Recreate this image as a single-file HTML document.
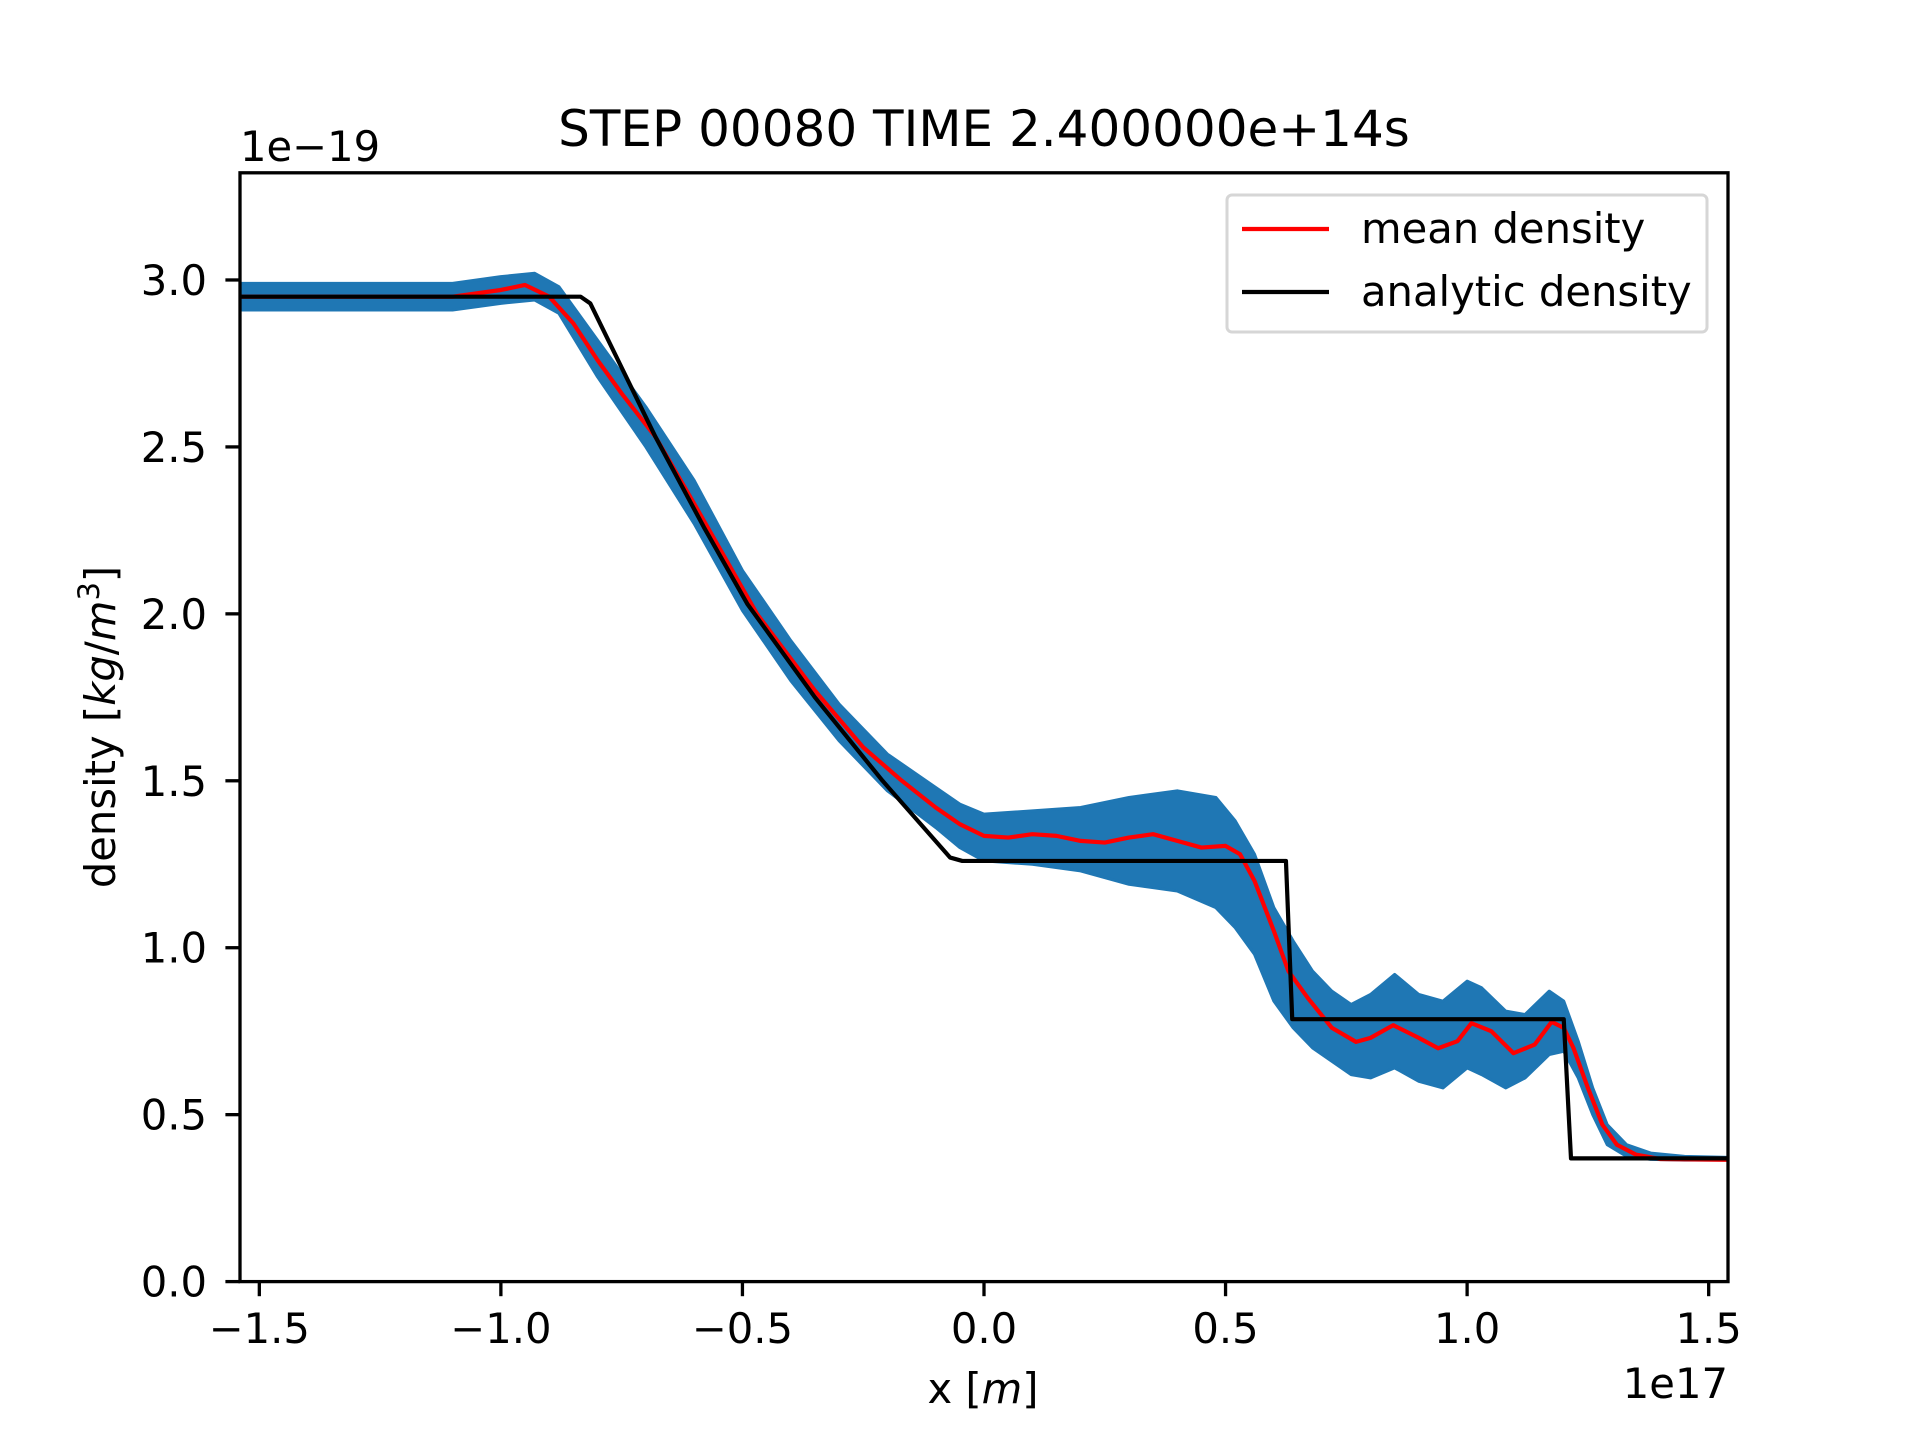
<!DOCTYPE html>
<html><head><meta charset="utf-8"><style>
html,body{margin:0;padding:0;background:#fff;}
svg text{font-family:"DejaVu Sans","Liberation Sans",sans-serif;fill:#000;}
</style></head><body>
<svg id="chart" width="1920" height="1440" viewBox="0 0 1920 1440" xmlns="http://www.w3.org/2000/svg">
<rect width="1920" height="1440" fill="#fff"/>
<text x="984" y="146" font-size="50" text-anchor="middle">STEP 00080 TIME 2.400000e+14s</text>
<text x="240" y="161" font-size="41.7">1e−19</text>
<text x="1728" y="1398" font-size="41.7" text-anchor="end">1e17</text>
<text x="983" y="1403" font-size="41.7" text-anchor="middle">x [<tspan font-style="italic">m</tspan>]</text>
<text transform="translate(115,727) rotate(-90)" font-size="41.7" text-anchor="middle">density [<tspan font-style="italic">kg</tspan>/<tspan font-style="italic">m</tspan><tspan font-size="29" dy="-16">3</tspan><tspan dy="16">]</tspan></text>
<defs><clipPath id="clip"><rect x="240" y="172.8" width="1488" height="1108.8"/></clipPath></defs>
<g id="plot" clip-path="url(#clip)"></g>
<g id="axes"></g>
<g>
<rect x="1227" y="195" width="480" height="137" rx="5" fill="#fff" fill-opacity="0.8" stroke="#d6d6d6" stroke-width="3"/>
<line x1="1242" y1="229" x2="1329" y2="229" stroke="#ff0000" stroke-width="4.2"/>
<text x="1361" y="243" font-size="41.7">mean density</text>
<line x1="1242" y1="292" x2="1329" y2="292" stroke="#000" stroke-width="4.2"/>
<text x="1361" y="306" font-size="41.7">analytic density</text>
</g>
</svg>
<script>
const xTicks = [-1.5,-1.0,-0.5,0.0,0.5,1.0,1.5];
const xTickLabels = ["−1.5","−1.0","−0.5","0.0","0.5","1.0","1.5"];
const yTicks = [0,0.5,1.0,1.5,2.0,2.5,3.0];
const yTickLabels = ["0.0","0.5","1.0","1.5","2.0","2.5","3.0"];
const analyticX = [-1.54,-0.835,-0.815,-0.68,-0.58,-0.49,-0.35,-0.21,-0.07,-0.045,0.625,0.638,1.2,1.215,1.54];
const analyticY = [2.95,2.95,2.93,2.53,2.26,2.03,1.75,1.5,1.27,1.26,1.26,0.786,0.786,0.369,0.369];
const meanX = [-1.54,-1.1,-1.0,-0.95,-0.9,-0.85,-0.8,-0.75,-0.68,-0.6,-0.47,-0.35,-0.25,-0.17,-0.1,-0.05,0,0.05,0.1,0.15,0.2,0.25,0.3,0.35,0.4,0.45,0.5,0.53,0.56,0.6,0.63,0.67,0.72,0.77,0.8,0.847,0.9,0.94,0.98,1.009,1.05,1.096,1.14,1.175,1.2,1.22,1.25,1.28,1.31,1.35,1.4,1.54];
const meanY = [2.95,2.95,2.97,2.985,2.95,2.87,2.76,2.66,2.53,2.33,2.0,1.77,1.6,1.5,1.42,1.37,1.335,1.33,1.34,1.335,1.32,1.315,1.33,1.34,1.32,1.30,1.305,1.28,1.2,1.05,0.93,0.85,0.76,0.718,0.73,0.768,0.73,0.699,0.72,0.774,0.75,0.684,0.71,0.778,0.76,0.70,0.58,0.47,0.41,0.38,0.367,0.365];
const bandX = [-1.54,-1.1,-1.0,-0.93,-0.88,-0.8,-0.7,-0.6,-0.5,-0.4,-0.3,-0.2,-0.1,-0.05,0,0.1,0.2,0.3,0.4,0.48,0.52,0.56,0.6,0.64,0.68,0.72,0.76,0.8,0.85,0.9,0.95,1.0,1.03,1.08,1.12,1.17,1.2,1.23,1.26,1.29,1.33,1.38,1.45,1.54];
const bandUpper = [2.99,2.99,3.01,3.02,2.98,2.82,2.62,2.40,2.13,1.92,1.73,1.58,1.48,1.43,1.40,1.41,1.42,1.45,1.47,1.45,1.38,1.28,1.12,1.02,0.93,0.87,0.83,0.86,0.92,0.86,0.84,0.90,0.88,0.81,0.80,0.87,0.84,0.72,0.58,0.47,0.41,0.385,0.375,0.372];
const bandLower = [2.91,2.91,2.93,2.94,2.90,2.71,2.50,2.27,2.01,1.80,1.62,1.47,1.36,1.30,1.26,1.25,1.23,1.19,1.17,1.12,1.06,0.98,0.84,0.76,0.70,0.66,0.62,0.61,0.64,0.60,0.58,0.64,0.62,0.58,0.61,0.68,0.69,0.61,0.50,0.41,0.375,0.366,0.364,0.364];
const L=240,R=1728,T=172.8,B=1281.6,XMIN=-1.54,XMAX=1.54,YMIN=0,YMAX=3.321;
function sx(v){return L+(v-XMIN)/(XMAX-XMIN)*(R-L);}
function sy(v){return B-(v-YMIN)/(YMAX-YMIN)*(B-T);}
const NS="http://www.w3.org/2000/svg";
const plot=document.getElementById('plot'), axes=document.getElementById('axes');
function mk(tag,attrs,parent){const e=document.createElementNS(NS,tag);for(const k in attrs)e.setAttribute(k,attrs[k]);parent.appendChild(e);return e;}
let d='M'+bandX.map((x,i)=>sx(x)+','+sy(bandUpper[i])).join(' L');
for(let i=bandX.length-1;i>=0;i--) d+=' L'+sx(bandX[i])+','+sy(bandLower[i]);
const band=mk('path',{d:d+'Z',fill:'#1f77b4','stroke':'#1f77b4','stroke-width':3,'stroke-linejoin':'round'},plot);


const mean=mk('polyline',{points:meanX.map((x,i)=>sx(x)+','+sy(meanY[i])).join(' '),fill:'none',stroke:'#ff0000','stroke-width':4.2,'stroke-linejoin':'round'},plot);


const an=mk('polyline',{points:analyticX.map((x,i)=>sx(x)+','+sy(analyticY[i])).join(' '),fill:'none',stroke:'#000','stroke-width':4.2,'stroke-linejoin':'round'},plot);


const frame=mk('rect',{x:L,y:T,width:R-L,height:B-T,fill:'none',stroke:'#000','stroke-width':3.3},axes);


xTicks.forEach((v,i)=>{
  const t=mk('line',{x1:sx(v),x2:sx(v),y1:B,y2:B+14.6,stroke:'#000','stroke-width':3.3},axes);
  
  
  const tx=mk('text',{x:sx(v),y:1343,'font-size':41.7,'text-anchor':'middle'},axes);
  tx.textContent=xTickLabels[i];
  
  
});
yTicks.forEach((v,i)=>{
  const t=mk('line',{x1:L-14.6,x2:L,y1:sy(v),y2:sy(v),stroke:'#000','stroke-width':3.3},axes);
  
  
  const tx=mk('text',{x:207,y:sy(v)+15,'font-size':41.7,'text-anchor':'end'},axes);
  tx.textContent=yTickLabels[i];
  
  
});
</script>
</body></html>
